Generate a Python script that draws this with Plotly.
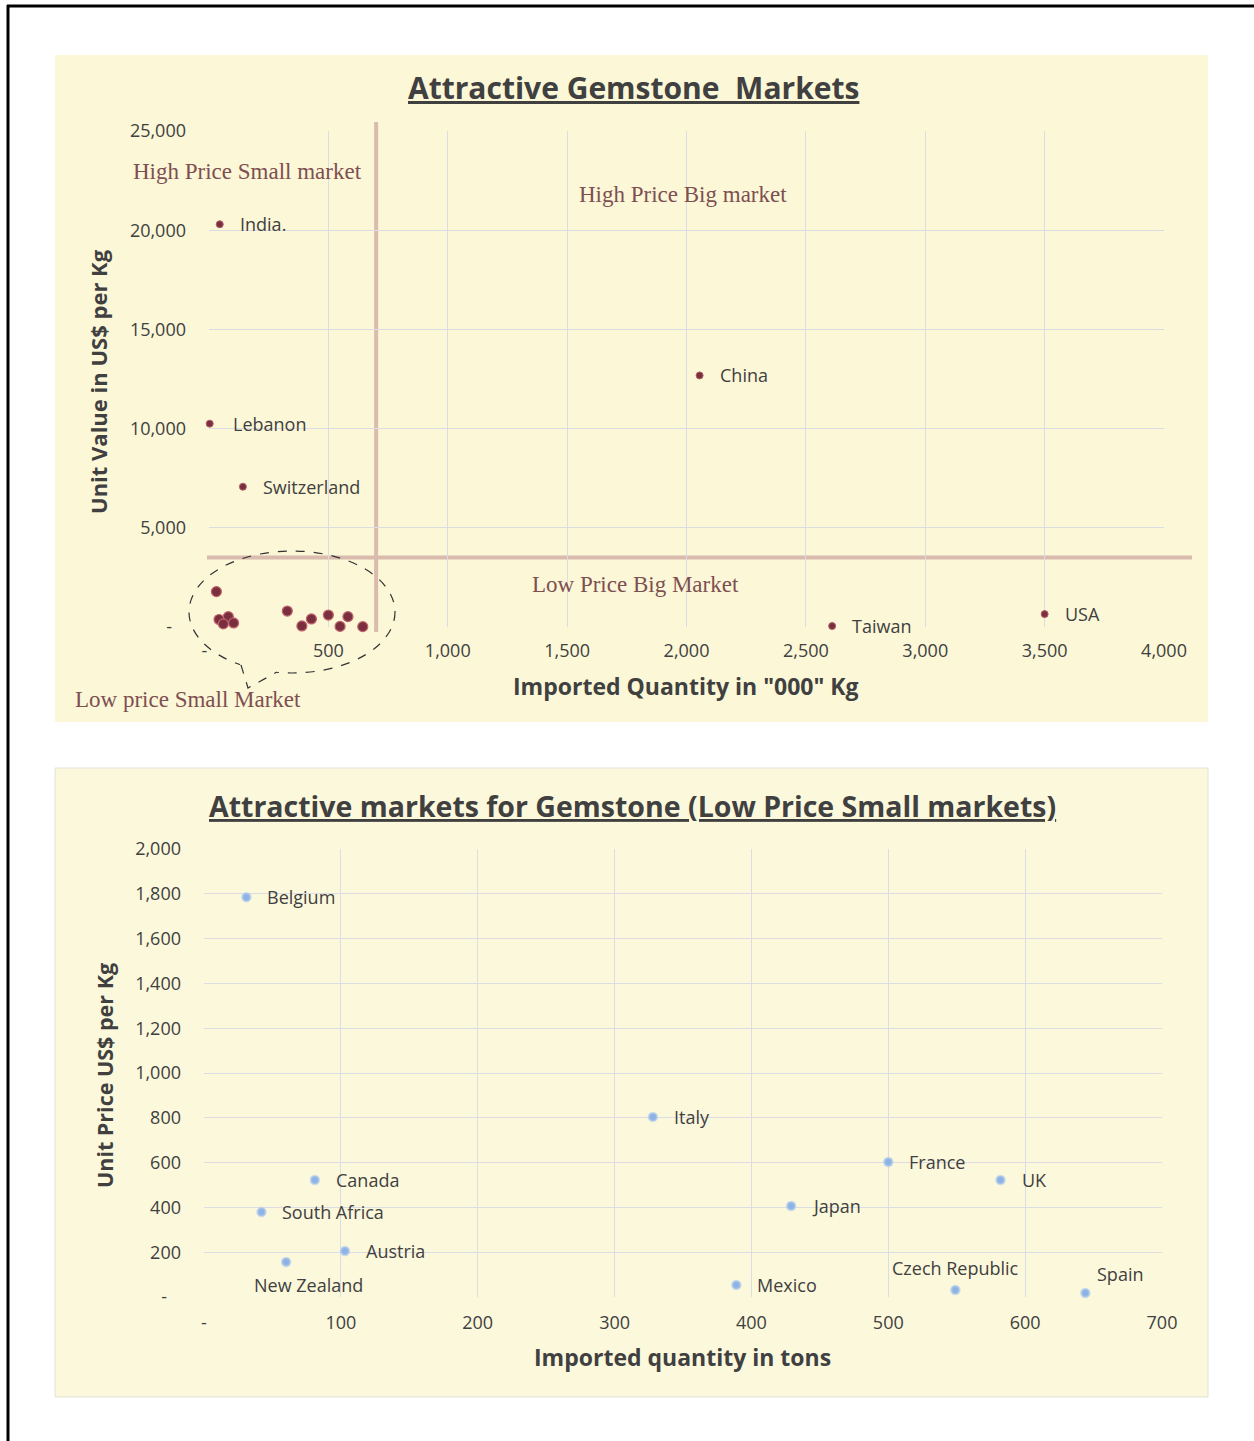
import plotly.graph_objects as go

# ---------------- data ----------------
# Top chart: labelled markets (quantity in '000 kg, unit value in US$/kg)
top_labels = ["India.", "Lebanon", "Switzerland", "China", "Taiwan", "USA"]
top_qty = [45, 3, 142, 2055, 2610, 3500]
top_value = [20300, 10250, 7070, 12680, 50, 650]

# Low price small markets (quantity in tons, unit price US$/kg)
small_countries = ["Belgium", "Italy", "France", "UK", "Japan", "Canada",
                   "South Africa", "Austria", "New Zealand", "Mexico",
                   "Czech Republic", "Spain"]
small_qty = [31, 328, 500, 582, 429, 81, 42, 103, 60, 389, 549, 644]
small_price = [1785, 804, 603, 522, 406, 522, 379, 205, 156, 54, 31, 18]

# tick values / labels
top_x_ticks = [0, 500, 1000, 1500, 2000, 2500, 3000, 3500, 4000]
top_x_labels = ["-\u00a0\u00a0", "500", "1,000", "1,500", "2,000", "2,500", "3,000", "3,500", "4,000"]
top_y_ticks = [0, 5000, 10000, 15000, 20000, 25000]
top_y_labels = ["-\u00a0\u00a0\u00a0", "5,000", "10,000", "15,000", "20,000", "25,000"]
bot_x_ticks = [0, 100, 200, 300, 400, 500, 600, 700]
bot_x_labels = ["-", "100", "200", "300", "400", "500", "600", "700"]
bot_y_ticks = [0, 200, 400, 600, 800, 1000, 1200, 1400, 1600, 1800, 2000]
bot_y_labels = ["-\u00a0\u00a0\u00a0", "200", "400", "600", "800", "1,000", "1,200", "1,400", "1,600", "1,800", "2,000"]

quad_x = 700      # quadrant split on quantity
quad_y = 3500     # quadrant split on unit value

# ---------------- layout helpers ----------------
W, H = 1254, 1441
def px(x):
    return x / W
def py(y):
    return 1 - y / H

TXT = "#404040"
GRID = "#DCDDE3"
PANEL = "#FBF7D7"
SANS = "Open Sans"

fig = go.Figure()

# top chart traces
fig.add_trace(go.Scatter(
    x=small_qty, y=small_price, mode="markers", xaxis="x", yaxis="y", cliponaxis=False,
    marker=dict(size=10, color="#7A2F3E", line=dict(width=1.2, color="#C0646E")),
    hoverinfo="skip", showlegend=False))
fig.add_trace(go.Scatter(
    x=top_qty, y=top_value, mode="markers", xaxis="x", yaxis="y", cliponaxis=False,
    marker=dict(size=7, color="#7A2F3E", line=dict(width=1, color="#B0606A")),
    hoverinfo="skip", showlegend=False))

# bottom chart traces
fig.add_trace(go.Scatter(
    x=small_qty, y=small_price, mode="markers", xaxis="x2", yaxis="y2", cliponaxis=False,
    marker=dict(size=8, color="#8DB2E3", line=dict(width=2.5, color="rgba(170,200,238,0.6)")),
    hoverinfo="skip", showlegend=False))

annotations = []

# top labels
top_shift = {"Lebanon": (21, 0)}
for lab, xv, yv in zip(top_labels, top_qty, top_value):
    dx, dy = top_shift.get(lab, (18, 0))
    annotations.append(dict(x=xv, y=yv, xref="x", yref="y", text=lab, showarrow=False,
                            xanchor="left", yanchor="middle", xshift=dx, yshift=dy,
                            font=dict(family=SANS, size=18, color=TXT)))

# bottom labels
bot_shift = {
    "New Zealand": ("center", 22, -23),
    "Czech Republic": ("center", 0, 22),
    "Spain": ("left", 10, 19),
}
for lab, xv, yv in zip(small_countries, small_qty, small_price):
    anc, dx, dy = bot_shift.get(lab, ("left", 19, 0))
    annotations.append(dict(x=xv, y=yv, xref="x2", yref="y2", text=lab, showarrow=False,
                            xanchor=anc, yanchor="middle", xshift=dx, yshift=dy,
                            font=dict(family=SANS, size=18, color=TXT)))

# titles
annotations.append(dict(x=px(633), y=py(88), xref="paper", yref="paper",
                        text="<b><u>Attractive Gemstone  Markets</u></b>", showarrow=False,
                        xanchor="center", yanchor="middle",
                        font=dict(family=SANS, size=30, color=TXT)))
annotations.append(dict(x=px(632), y=py(806), xref="paper", yref="paper",
                        text="<b><u>Attractive markets for Gemstone (Low Price Small markets)</u></b>",
                        showarrow=False, xanchor="center", yanchor="middle",
                        font=dict(family=SANS, size=28.5, color=TXT)))
# axis titles
annotations.append(dict(x=px(686), y=py(686), xref="paper", yref="paper",
                        text="<b>Imported Quantity in \"000\" Kg</b>", showarrow=False,
                        xanchor="center", yanchor="middle",
                        font=dict(family=SANS, size=23, color=TXT)))
annotations.append(dict(x=px(682), y=py(1357), xref="paper", yref="paper",
                        text="<b>Imported quantity in tons</b>", showarrow=False,
                        xanchor="center", yanchor="middle",
                        font=dict(family=SANS, size=23, color=TXT)))
annotations.append(dict(x=px(98), y=py(382), xref="paper", yref="paper",
                        text="<b>Unit Value in US$ per Kg</b>", showarrow=False, textangle=-90,
                        xanchor="center", yanchor="middle",
                        font=dict(family=SANS, size=22, color=TXT)))
annotations.append(dict(x=px(104), y=py(1076), xref="paper", yref="paper",
                        text="<b>Unit Price US$ per Kg</b>", showarrow=False, textangle=-90,
                        xanchor="center", yanchor="middle",
                        font=dict(family=SANS, size=21.5, color=TXT)))

# quadrant labels
QCOL = "#7E4F51"
for txt, lx, ly in [("High Price Small market", 131, 171),
                    ("High Price Big market", 577, 195),
                    ("Low Price Big Market", 530, 584),
                    ("Low price Small Market", 73, 699)]:
    annotations.append(dict(x=px(lx), y=py(ly), xref="paper", yref="paper", text=txt,
                            showarrow=False, xanchor="left", yanchor="middle",
                            font=dict(family="Liberation Serif", size=23, color=QCOL)))

shapes = []
# page border (left and top)
shapes.append(dict(type="line", xref="paper", yref="paper", x0=px(8), x1=px(8), y0=py(5), y1=py(H),
                   line=dict(color="black", width=3), layer="below"))
shapes.append(dict(type="line", xref="paper", yref="paper", x0=px(7), x1=px(W), y0=py(6), y1=py(6),
                   line=dict(color="black", width=3), layer="below"))
# panels
shapes.append(dict(type="rect", xref="paper", yref="paper", x0=px(55), x1=px(1208), y0=py(722), y1=py(55),
                   fillcolor=PANEL, line=dict(width=0), layer="below"))
shapes.append(dict(type="rect", xref="paper", yref="paper", x0=px(55), x1=px(1208), y0=py(1397), y1=py(768),
                   fillcolor="#FCF8DC", line=dict(width=1, color="#E2E2D6"), layer="below"))
# quadrant lines
shapes.append(dict(type="line", xref="x", yref="paper", x0=quad_x, x1=quad_x, y0=py(632), y1=py(122),
                   line=dict(color="#D9BCAE", width=4), layer="between"))
shapes.append(dict(type="line", xref="paper", yref="y", x0=px(207), x1=px(1192), y0=quad_y, y1=quad_y,
                   line=dict(color="#D9BCAE", width=4), layer="between"))
# callout ellipse
shapes.append(dict(type="circle", xref="paper", yref="paper", x0=px(189), x1=px(395), y0=py(673), y1=py(551),
                   line=dict(color="#333333", width=1.2, dash="dash"), layer="above"))
# callout tail: cover ellipse arc then draw tail edges
shapes.append(dict(type="path", xref="paper", yref="paper",
                   path=f"M {px(240)} {py(664)} L {px(248)} {py(690)} L {px(279)} {py(671)} L {px(279)} {py(666)} L {px(240)} {py(660)} Z",
                   fillcolor=PANEL, line=dict(width=0), layer="above"))
shapes.append(dict(type="path", xref="paper", yref="paper",
                   path=f"M {px(241)} {py(665)} L {px(248)} {py(688)} L {px(277)} {py(672)}",
                   line=dict(color="#333333", width=1.2, dash="dash"), layer="above"))

axis_common = dict(showgrid=True, gridcolor=GRID, gridwidth=1, zeroline=False, showline=False,
                   ticks="", tickfont=dict(family=SANS, size=18, color=TXT), automargin=False,
                   fixedrange=True)

fig.update_layout(
    width=W, height=H, autosize=False,
    margin=dict(l=0, r=0, t=0, b=0),
    paper_bgcolor="white", plot_bgcolor="rgba(0,0,0,0)",
    showlegend=False,
    xaxis=dict(domain=[px(209), px(1164)], range=[0, 4000], anchor="y",
               tickvals=top_x_ticks, ticktext=top_x_labels, ticklabelstandoff=11, **axis_common),
    yaxis=dict(domain=[py(627), py(131)], range=[0, 25000], anchor="x",
               tickvals=top_y_ticks, ticktext=top_y_labels, ticklabelstandoff=22, **axis_common),
    xaxis2=dict(domain=[px(204), px(1162)], range=[0, 700], anchor="y2",
                tickvals=bot_x_ticks, ticktext=bot_x_labels, ticklabelstandoff=13, **axis_common),
    yaxis2=dict(domain=[py(1297), py(849)], range=[0, 2000], anchor="x2",
                tickvals=bot_y_ticks, ticktext=bot_y_labels, ticklabelstandoff=22, **axis_common),
    annotations=annotations,
    shapes=shapes,
)

fig.write_html("out.html", config={"displayModeBar": False, "staticPlot": True},
               post_script="document.body.style.margin='0';document.body.style.overflow='hidden';")
